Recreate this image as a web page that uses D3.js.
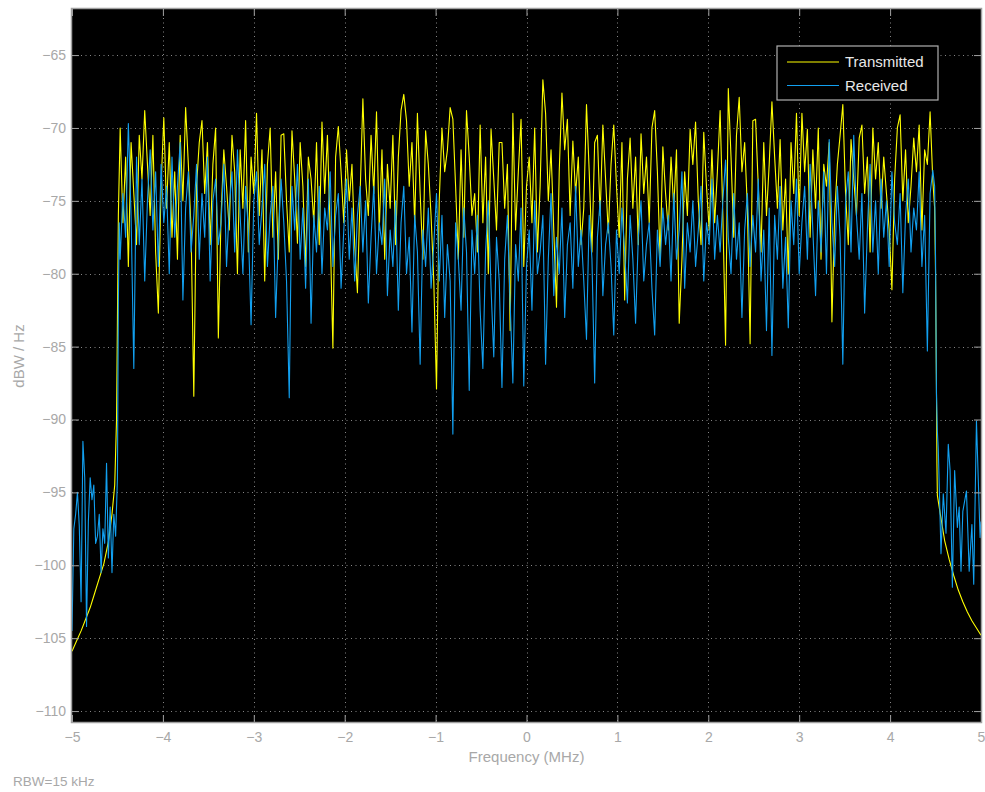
<!DOCTYPE html>
<html>
<head>
<meta charset="utf-8">
<script src="https://cdn.jsdelivr.net/npm/d3@7"></script>
<style>
  body { margin: 0; background: #fff; }
  svg text { font-family: "Liberation Sans", Arial, sans-serif; }
</style>
</head>
<body>
<svg id="chart" width="985" height="792"></svg>
<script>
// x ticks (MHz) and y ticks (dBW/Hz)
const xTicks = [-5, -4, -3, -2, -1, 0, 1, 2, 3, 4, 5];
const yTicks = [-110, -105, -100, -95, -90, -85, -80, -75, -70, -65];

// in-band samples start here, one every bandStep MHz
const bandStart = -4.47;
const bandStep = 0.03;

// Transmitted, in-band levels
const txBand = [
  -70.0, -76.5, -72.0, -79.5, -71.0, -74.5, -78.0, -70.5, -73.5, -68.8,
  -72.5, -76.0, -70.5, -78.5, -82.7, -74.0, -69.3, -75.5, -71.0, -77.5,
  -73.0, -79.0, -70.5, -75.0, -68.6, -72.5, -77.0, -88.4, -74.0, -71.0,
  -69.5, -74.5, -71.0, -78.0, -72.5, -70.0, -84.4, -76.0, -71.5, -74.0,
  -77.0, -70.5, -73.0, -80.0, -71.5, -75.5, -69.5, -78.5, -72.0, -74.5,
  -69.0, -76.0, -71.5, -80.5, -72.5, -70.0, -77.5, -73.0, -79.0, -70.5,
  -70.4, -75.0, -78.5, -70.2, -73.5, -77.9, -71.0, -74.0, -79.5, -72.0,
  -73.5, -76.5, -71.0, -78.0, -69.6, -74.5, -70.5, -77.0, -85.1, -72.0,
  -69.9, -73.0, -76.5, -71.5, -75.0, -72.5, -78.0, -81.3, -74.5, -68.0,
  -73.5, -76.0, -70.5, -74.5, -68.9, -77.0, -71.5, -79.0, -72.5, -75.5,
  -70.5, -78.0, -72.0, -68.8, -67.7, -69.5, -74.0, -71.0, -76.5, -69.0,
  -74.5, -79.0, -70.2, -72.5, -76.0, -80.5, -87.9, -75.0, -70.0, -73.0,
  -71.5, -68.6, -69.4, -74.0, -79.0, -71.5, -77.5, -68.8, -72.0, -76.0,
  -74.5, -78.5, -69.8, -76.5, -72.0, -80.0, -70.1, -73.5, -77.0, -71.0,
  -71.0, -75.5, -72.5, -83.9, -69.0, -77.0, -73.0, -69.4, -79.5, -74.0,
  -72.0, -76.5, -70.0, -78.5, -74.0, -66.7, -69.0, -75.0, -71.5, -77.0,
  -82.3, -73.0, -67.6, -71.5, -69.4, -76.0, -70.9, -74.5, -72.0, -78.0,
  -75.5, -68.4, -73.0, -78.5, -71.0, -70.5, -76.0, -69.8, -73.5, -77.2,
  -72.5, -69.8, -74.0, -77.5, -71.0, -81.8, -73.5, -70.7, -75.5, -72.0,
  -78.0, -70.4, -74.5, -72.0, -76.5, -70.0, -68.8, -73.0, -79.0, -71.3,
  -74.5, -77.0, -72.0, -75.5, -71.5, -83.4, -79.0, -73.0, -76.0, -70.1,
  -72.5, -69.6, -75.0, -78.0, -70.3, -74.0, -77.0, -71.5, -76.5, -73.0,
  -68.8, -76.0, -84.9, -67.3, -72.0, -77.5, -70.5, -67.9, -73.0, -71.0,
  -75.5, -84.8, -69.5, -69.4, -74.0, -78.5, -71.0, -76.0, -72.5, -68.2,
  -72.0, -75.5, -70.8, -77.0, -73.5, -80.0, -71.0, -74.5, -69.0, -76.0,
  -69.0, -73.0, -70.1, -77.5, -71.5, -75.5, -70.0, -79.0, -72.5, -74.0,
  -71.0, -83.3, -76.0, -72.5, -70.5, -68.4, -74.5, -78.0, -70.8, -73.5,
  -76.0, -70.7, -69.8, -74.5, -72.0, -78.5, -70.0, -73.5, -71.0, -75.5,
  -72.0, -74.5, -77.0, -81.1, -73.5, -70.0, -69.1, -75.0, -71.5, -76.5,
  -74.0, -70.7, -73.0, -69.8, -77.0, -71.5, -72.5, -68.9, -73.6
];

// Received, in-band levels
const rxBand = [
  -79.0, -74.5, -77.5, -69.7, -76.0, -86.5, -72.0, -78.0, -73.5, -80.5,
  -75.0, -71.5, -77.0, -73.0, -79.5, -72.5, -76.5, -74.0, -80.0, -72.0,
  -77.5, -74.0, -71.0, -81.8, -75.5, -73.0, -78.5, -76.0, -72.5, -79.0,
  -74.5, -77.5, -72.0, -80.5, -75.0, -73.5, -78.0, -76.5, -72.5, -79.5,
  -75.5, -73.0, -78.5, -71.5, -76.0, -80.0, -74.0, -77.0, -83.5, -75.0,
  -73.0, -78.0, -75.5, -72.5, -79.5, -76.0, -74.0, -83.0, -77.5, -73.5,
  -76.5, -80.5, -88.5, -74.0, -77.0, -72.5, -79.0, -75.5, -81.0, -73.5,
  -83.4, -76.0, -78.5, -74.0, -80.0, -75.5, -77.0, -73.0, -79.5, -76.0,
  -74.5, -81.0, -77.0, -73.5, -79.0, -75.5, -80.5, -76.0, -74.0, -78.5,
  -75.0, -82.0, -77.5, -74.0, -80.0, -76.5, -78.0, -73.5, -81.5, -77.0,
  -79.5, -75.0, -82.5, -76.5, -74.0, -80.0, -77.5, -84.0, -76.0, -78.5,
  -86.2, -77.0, -79.5, -75.5, -81.0, -78.0, -74.5, -80.5, -76.0, -83.0,
  -78.0, -80.5, -91.0, -76.5, -79.0, -82.5, -75.5, -78.5, -88.0, -77.0,
  -80.0, -76.0, -82.5, -86.5, -78.5, -75.0, -81.0, -85.7, -77.5, -80.5,
  -87.8, -79.0, -76.0, -82.0, -87.5, -78.0, -80.5, -75.5, -87.7, -79.5,
  -77.0, -82.5, -75.0, -80.0, -78.5, -76.0, -86.2, -79.0, -74.5, -81.5,
  -77.5, -80.0, -75.5, -83.0, -78.0, -76.5, -81.0, -74.0, -79.5, -77.0,
  -80.5, -84.5, -76.0, -79.0, -87.5, -77.5, -75.0, -81.5, -78.0, -76.5,
  -79.5, -84.2, -77.0, -80.0, -75.5, -78.5, -82.0, -76.0, -79.0, -83.4,
  -77.5, -75.0, -80.5, -78.0, -76.5, -81.0, -84.2, -77.0, -79.5, -75.5,
  -78.0, -76.0, -80.5, -74.5, -79.0, -77.0, -73.0, -81.0, -76.5, -78.5,
  -75.0, -79.5, -77.0, -74.0, -80.5, -76.5, -78.0, -73.5, -79.0, -76.0,
  -78.5, -75.0, -72.2, -77.5, -80.0, -74.5, -79.0, -76.5, -83.0, -77.0,
  -74.5, -79.5, -76.0, -78.5, -73.5, -80.5, -77.0, -83.9, -75.5, -85.6,
  -76.0, -79.0, -74.0, -81.0, -77.5, -83.7, -75.0, -78.0, -73.5, -80.0,
  -76.5, -74.0, -79.0, -72.5, -77.0, -81.5, -75.0, -78.5, -73.0, -80.0,
  -70.8, -76.5, -79.5, -74.0, -77.5, -86.2, -75.0, -73.0, -78.5, -70.5,
  -76.0, -79.0, -74.5, -82.7, -77.0, -72.5, -78.5, -75.0, -80.0, -73.5,
  -77.5, -75.0, -79.5, -73.0, -76.5, -78.0, -74.5, -81.3, -76.0, -73.5,
  -78.5, -75.5, -77.0, -73.0, -79.5, -76.0, -85.3, -74.5, -72.9
];

// band edges and out-of-band parts (frequency, level)
const txLowFreq = [-5, -4.95, -4.9, -4.85, -4.8, -4.75, -4.7, -4.65, -4.6, -4.56, -4.53, -4.51, -4.5, -4.49];
const txLowLevel = [-105.9, -105.2, -104.5, -103.7, -102.9, -101.9, -100.9, -99.9, -98.4, -96.5, -94.5, -90, -83, -76];
const txHighFreq = [4.49, 4.5, 4.51, 4.515, 4.52, 4.55, 4.6, 4.65, 4.7, 4.75, 4.8, 4.85, 4.9, 4.95, 5];
const txHighLevel = [-75.5, -80, -88, -93, -95.2, -96.4, -98.3, -99.6, -100.7, -101.7, -102.5, -103.2, -103.8, -104.3, -104.8];

const rxLowFreq = [-5, -4.98, -4.96, -4.94, -4.92, -4.9, -4.88, -4.86, -4.84, -4.82, -4.8, -4.78, -4.76,
  -4.74, -4.72, -4.7, -4.68, -4.66, -4.64, -4.62, -4.6, -4.58, -4.56, -4.54, -4.52, -4.5, -4.49, -4.48];
const rxLowLevel = [-104.5, -97.5, -96.5, -95.0, -97.3, -102.5, -91.5, -94.0, -104.2, -97.0, -94.0, -95.5, -94.5,
  -98.5, -98.0, -96.5, -100.5, -97.5, -98.5, -93.0, -99.5, -96.0, -100.5, -96.5, -98.0, -94.0, -82.0, -76.5];
const rxHighFreq = [4.49, 4.5, 4.51, 4.52, 4.53, 4.56, 4.585, 4.615, 4.64, 4.66, 4.685, 4.71, 4.74, 4.76,
  4.78, 4.8, 4.84, 4.87, 4.9, 4.92, 4.95, 4.99, 5];
const rxHighLevel = [-74.0, -79.0, -88.2, -90.8, -92.0, -99.2, -95.1, -97.8, -91.7, -93.5, -101.5, -93.5, -97.4, -96.0,
  -100.4, -96.3, -94.9, -100.4, -97.2, -101.3, -90.1, -98.1, -97.0];

const seriesNames = ["Transmitted", "Received"];
const seriesColors = ["#ffff00", "#12a0f0"];

function buildTrace(lowF, lowL, band, highF, highL) {
  const pts = lowF.map((f, i) => [f, lowL[i]]);
  band.forEach((v, i) => pts.push([+(bandStart + i * bandStep).toFixed(3), v]));
  highF.forEach((f, i) => pts.push([f, highL[i]]));
  return pts;
}

const traces = [
  buildTrace(txLowFreq, txLowLevel, txBand, txHighFreq, txHighLevel),
  buildTrace(rxLowFreq, rxLowLevel, rxBand, rxHighFreq, rxHighLevel)
];

const plot = { left: 72, top: 9, right: 981, bottom: 722 };
const svg = d3.select("#chart");
const axisGray = "#a0a0a0";
const textGray = "#a8a8a8";

const x = d3.scaleLinear().domain([-5, 5]).range([plot.left, plot.right]);
const y = d3.scaleLinear().domain([-110.75, -61.84]).range([plot.bottom, plot.top]);

// plot background
svg.append("rect")
  .attr("x", plot.left).attr("y", plot.top)
  .attr("width", plot.right - plot.left).attr("height", plot.bottom - plot.top)
  .attr("fill", "#000");

svg.append("clipPath").attr("id", "clip")
  .append("rect")
  .attr("x", plot.left).attr("y", plot.top)
  .attr("width", plot.right - plot.left).attr("height", plot.bottom - plot.top);

// dotted grid
const grid = svg.append("g").attr("stroke", "#858585").attr("stroke-width", 1)
  .attr("stroke-dasharray", "1,3.5");
grid.selectAll("line.v").data(xTicks.slice(1, -1)).enter().append("line")
  .attr("x1", d => Math.round(x(d)) + 0.5).attr("x2", d => Math.round(x(d)) + 0.5)
  .attr("y1", plot.top).attr("y2", plot.bottom);
grid.selectAll("line.h").data(yTicks).enter().append("line")
  .attr("y1", d => Math.round(y(d)) + 0.5).attr("y2", d => Math.round(y(d)) + 0.5)
  .attr("x1", plot.left).attr("x2", plot.right);

// traces
const line = d3.line().x(d => x(d[0])).y(d => y(d[1]));
svg.append("g").attr("clip-path", "url(#clip)")
  .selectAll("path").data(traces).enter().append("path")
  .attr("d", line)
  .attr("fill", "none")
  .attr("stroke", (d, i) => seriesColors[i])
  .attr("stroke-width", 1.1)
  .attr("stroke-linejoin", "round");

// axes, ticks inside on all sides
function styleAxis(g) {
  g.select(".domain").remove();
  g.selectAll(".tick line").attr("stroke", axisGray);
  g.selectAll(".tick text").attr("fill", textGray).attr("font-size", 14);
}
const fmt = d3.format("d");
svg.append("g").attr("transform", `translate(0,${plot.bottom})`)
  .call(d3.axisBottom(x).tickValues(xTicks).tickFormat(fmt).tickSize(-7).tickPadding(10))
  .call(styleAxis);
svg.append("g").attr("transform", `translate(${plot.left},0)`)
  .call(d3.axisLeft(y).tickValues(yTicks).tickFormat(fmt).tickSize(-7).tickPadding(6))
  .call(styleAxis);
svg.append("g").attr("transform", `translate(0,${plot.top})`)
  .call(d3.axisTop(x).tickValues(xTicks).tickFormat("").tickSize(-7))
  .call(styleAxis);
svg.append("g").attr("transform", `translate(${plot.right},0)`)
  .call(d3.axisRight(y).tickValues(yTicks).tickFormat("").tickSize(-7))
  .call(styleAxis);

// box
svg.append("rect")
  .attr("x", plot.left - 0.5).attr("y", plot.top - 0.5)
  .attr("width", plot.right - plot.left + 1).attr("height", plot.bottom - plot.top + 1)
  .attr("fill", "none").attr("stroke", axisGray).attr("stroke-width", 1.5);

// labels
svg.append("text")
  .attr("x", (plot.left + plot.right) / 2).attr("y", 762)
  .attr("text-anchor", "middle").attr("fill", textGray).attr("font-size", 15)
  .text("Frequency (MHz)");
svg.append("text")
  .attr("transform", "translate(24,356) rotate(-90)")
  .attr("text-anchor", "middle").attr("fill", textGray).attr("font-size", 15)
  .text("dBW / Hz");
svg.append("text")
  .attr("x", 13).attr("y", 786)
  .attr("fill", textGray).attr("font-size", 13.5)
  .text("RBW=15 kHz");

// legend
const legend = svg.append("g").attr("transform", "translate(777,46)");
legend.append("rect")
  .attr("width", 161).attr("height", 54)
  .attr("fill", "#000").attr("stroke", "#b0b0b0").attr("stroke-width", 1.2);
seriesNames.forEach((name, i) => {
  const yy = 16 + i * 23.5;
  legend.append("line")
    .attr("x1", 10).attr("x2", 62).attr("y1", yy).attr("y2", yy)
    .attr("stroke", seriesColors[i]).attr("stroke-width", 1);
  legend.append("text")
    .attr("x", 68).attr("y", yy + 5)
    .attr("fill", "#e8e8e8").attr("font-size", 15)
    .text(name);
});
</script>
</body>
</html>
